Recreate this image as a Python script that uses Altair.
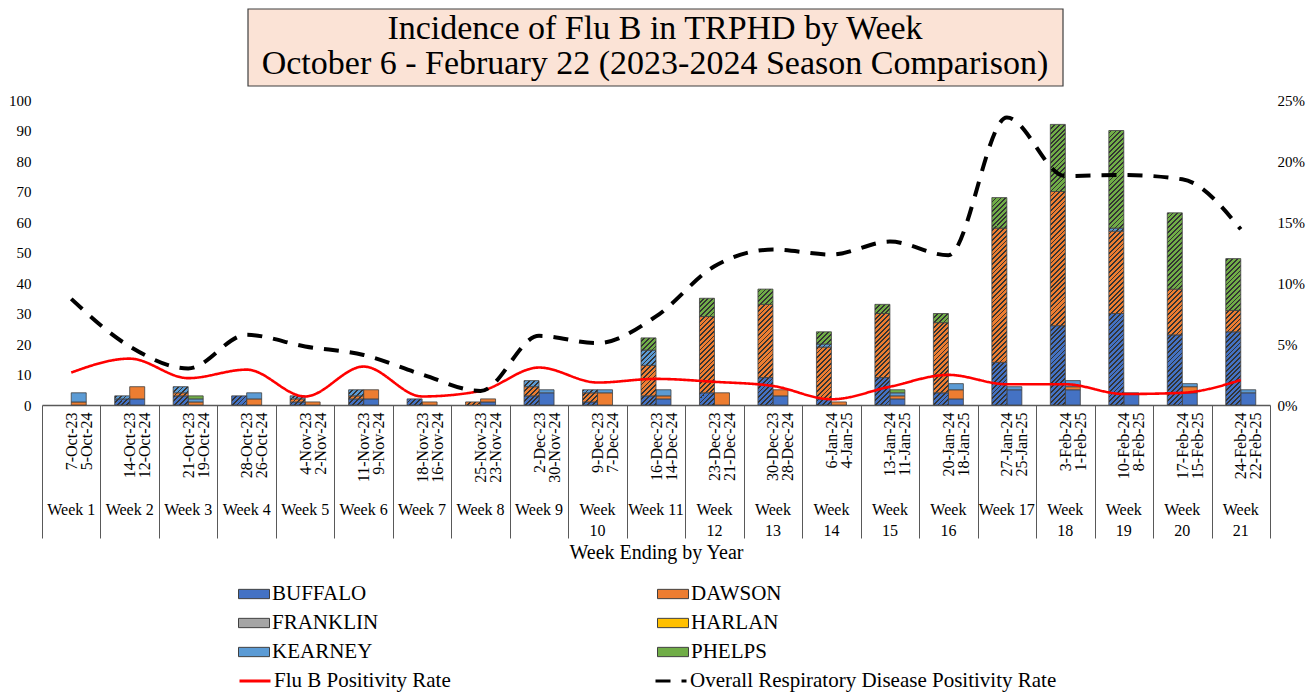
import altair as alt
import pandas as pd

SERIF = "Liberation Serif"

# ---------------- data ----------------
counties = ["BUFFALO", "DAWSON", "FRANKLIN", "HARLAN", "KEARNEY", "PHELPS"]
county_colors = ["#4472C4", "#ED7D31", "#A5A5A5", "#FFC000", "#5B9BD5", "#70AD47"]

week_labels = ["Week 1", "Week 2", "Week 3", "Week 4", "Week 5", "Week 6", "Week 7",
               "Week 8", "Week 9", "Week\n10", "Week 11", "Week\n12", "Week\n13", "Week\n14",
               "Week\n15", "Week\n16", "Week 17", "Week\n18", "Week\n19", "Week\n20", "Week\n21"]

dates_2023 = ["7-Oct-23", "14-Oct-23", "21-Oct-23", "28-Oct-23", "4-Nov-23", "11-Nov-23",
              "18-Nov-23", "25-Nov-23", "2-Dec-23", "9-Dec-23", "16-Dec-23", "23-Dec-23",
              "30-Dec-23", "6-Jan-24", "13-Jan-24", "20-Jan-24", "27-Jan-24", "3-Feb-24",
              "10-Feb-24", "17-Feb-24", "24-Feb-24"]
dates_2024 = ["5-Oct-24", "12-Oct-24", "19-Oct-24", "26-Oct-24", "2-Nov-24", "9-Nov-24",
              "16-Nov-24", "23-Nov-24", "30-Nov-24", "7-Dec-24", "14-Dec-24", "21-Dec-24",
              "28-Dec-24", "4-Jan-25", "11-Jan-25", "18-Jan-25", "25-Jan-25", "1-Feb-25",
              "8-Feb-25", "15-Feb-25", "22-Feb-25"]

# 2023-2024 season (hatched bars)
s23_buffalo  = [0, 2, 3, 3, 1, 2, 2, 0, 3, 1, 3, 4, 9, 2, 9, 4, 14, 26, 30, 23, 24]
s23_dawson   = [0, 0, 1, 0, 1, 1, 0, 1, 3, 3, 10, 25, 24, 17, 21, 23, 44, 44, 27, 15, 7]
s23_franklin = [0, 0, 0, 0, 0, 0, 0, 0, 0, 0, 0, 0, 0, 0, 0, 0, 0, 0, 0, 0, 0]
s23_harlan   = [0, 0, 0, 0, 0, 0, 0, 0, 0, 0, 0, 0, 0, 0, 0, 0, 0, 0, 0, 0, 0]
s23_kearney  = [0, 1, 2, 0, 1, 2, 0, 0, 2, 1, 5, 0, 0, 1, 0, 0, 0, 0, 1, 0, 0]
s23_phelps   = [0, 0, 0, 0, 0, 0, 0, 0, 0, 0, 4, 6, 5, 4, 3, 3, 10, 22, 32, 25, 17]

# 2024-2025 season (solid bars)
s24_buffalo  = [0, 2, 0, 0, 0, 2, 0, 1, 4, 0, 2, 0, 3, 0, 2, 2, 5, 5, 4, 4, 4]
s24_dawson   = [1, 4, 1, 2, 1, 3, 1, 1, 0, 4, 1, 4, 2, 1, 1, 3, 0, 1, 0, 2, 0]
s24_franklin = [0, 0, 0, 0, 0, 0, 0, 0, 0, 0, 0, 0, 0, 0, 0, 0, 0, 0, 0, 0, 0]
s24_harlan   = [0, 0, 0, 0, 0, 0, 0, 0, 0, 0, 0, 0, 0, 0, 0, 0, 0, 0, 0, 0, 0]
s24_kearney  = [3, 0, 1, 2, 0, 0, 0, 0, 1, 1, 2, 0, 0, 0, 1, 2, 1, 2, 0, 1, 1]
s24_phelps   = [0, 0, 1, 0, 0, 0, 0, 0, 0, 0, 0, 0, 0, 0, 1, 0, 0, 0, 0, 0, 0]

# positivity rates (%)
flu_b_rate = [2.66, 3.8, 2.2, 2.9, 0.7, 3.15, 0.7, 1.15, 3.07, 1.84, 2.14, 1.9, 1.56,
              0.47, 1.5, 2.47, 1.7, 1.7, 0.9, 1.0, 2.05]
overall_rate = [8.7, 4.8, 3.0, 5.75, 4.8, 4.1, 2.5, 1.15, 5.67, 5.07, 7.26, 11.37, 12.74,
                12.33, 13.4, 12.27, 23.56, 18.77, 18.85, 18.5, 14.4]

S23, S24 = "2023-2024", "2024-2025"
FLU_NAME = "Flu B Positivity Rate"
ALL_NAME = "Overall Respiratory Disease Positivity Rate"
title_lines = ["Incidence of Flu B in TRPHD by Week",
               "October 6 - February 22 (2023-2024 Season Comparison)"]

# ---------------- tables ----------------
keys = [f"{a}|{b}" for a, b in zip(dates_2023, dates_2024)]
s23 = [s23_buffalo, s23_dawson, s23_franklin, s23_harlan, s23_kearney, s23_phelps]
s24 = [s24_buffalo, s24_dawson, s24_franklin, s24_harlan, s24_kearney, s24_phelps]

rows = []
for season, block in ((S23, s23), (S24, s24)):
    for ci, (county, vals) in enumerate(zip(counties, block)):
        for i, v in enumerate(vals):
            if v > 0:
                rows.append({"key": keys[i], "season": season, "county": county,
                             "order": ci, "count": v})
bars_df = pd.DataFrame(rows)

lines_df = pd.DataFrame(
    [{"key": k, "series": FLU_NAME, "rate": r / 100} for k, r in zip(keys, flu_b_rate)]
    + [{"key": k, "series": ALL_NAME, "rate": r / 100} for k, r in zip(keys, overall_rate)]
)
wk_df = pd.DataFrame({"key": keys, "wk": week_labels})
one = pd.DataFrame({"dummy": [0]})

# ---------------- geometry / style ----------------
PLOT_W, PLOT_H = 1228, 305
Y_MAX = 100
BAND = PLOT_W / len(keys)
PAD_OUT = 0.95
BAR_W = BAND / (2 + 2 * PAD_OUT)
PX_PER_UNIT = PLOT_H / Y_MAX
HATCH_P = 4.8
HATCH_D = 1.8
HATCH_COLOR = "#333333"
EDGE = "#404040"


def hatch_fill(base, x0, y0, h):
    w = BAR_W
    L = w + h
    k = L / (w * w + h * h)
    phase = (-(x0 + y0)) % HATCH_P
    stops = [{"offset": 0.0, "color": base}]
    n = -1
    while True:
        a = phase + n * HATCH_P
        if a >= L:
            break
        b = a + HATCH_D
        if b > 0:
            aa = round(max(a, 0.0) / L, 5)
            bb = round(min(b, L) / L, 5)
            stops += [{"offset": aa, "color": base}, {"offset": aa, "color": HATCH_COLOR},
                      {"offset": bb, "color": HATCH_COLOR}, {"offset": bb, "color": base}]
        n += 1
    stops.append({"offset": 1.0, "color": base})
    return {"gradient": "linear", "x1": 0, "y1": 0, "x2": k * w, "y2": k * h, "stops": stops}


x_enc = alt.X(
    "key:N", sort=keys,
    scale=alt.Scale(paddingInner=0, paddingOuter=0),
    axis=alt.Axis(
        title="Week Ending by Year", titleFont=SERIF, titleFontSize=20,
        titleFontWeight="normal", titleColor="#000", titlePadding=4,
        labelExpr="split(datum.label, '|')", labelAngle=270, labelFont=SERIF,
        labelFontSize=16, labelLineHeight=15, labelPadding=-126, labelColor="#000",
        labelOverlap=False, tickBand="extent", tickSize=133, tickColor="#595959",
        tickWidth=1, domainColor="#595959", domainWidth=1.5,
    ),
)
xo_enc = alt.XOffset("season:N", scale=alt.Scale(domain=[S23, S24], paddingInner=0,
                                                   paddingOuter=PAD_OUT))
y_bar = alt.Y(
    "y0:Q", scale=alt.Scale(domain=[0, Y_MAX], nice=False),
    axis=alt.Axis(values=[0, 10, 20, 30, 40, 50, 60, 70, 80, 90, 100], title=None,
                  tickSize=0, domain=False, grid=False, labelFont=SERIF, labelFontSize=15,
                  labelColor="#000", labelPadding=11),
)
y_rate = alt.Y(
    "rate:Q", scale=alt.Scale(domain=[0, 0.25], nice=False),
    axis=alt.Axis(orient="right", values=[0, 0.05, 0.10, 0.15, 0.20, 0.25], format=".0%",
                  title=None, tickSize=0, domain=False, grid=False, labelFont=SERIF,
                  labelFontSize=15, labelColor="#000", labelPadding=7),
)

color_legend = alt.Legend(
    title=None, orient="none", direction="horizontal", legendX=196, legendY=478,
    columns=2, columnPadding=276, rowPadding=3, symbolType="M-1,-0.3H1V0.3H-1Z",
    symbolSize=961, symbolStrokeColor=EDGE, symbolStrokeWidth=1, labelFont=SERIF,
    labelFontSize=21, labelColor="#000", labelOffset=2, labelLimit=600, padding=0,
)
line_legend = alt.Legend(
    title=None, orient="none", direction="horizontal", legendX=196, legendY=564,
    columns=2, columnPadding=198, symbolType="stroke", symbolSize=961,
    symbolStrokeWidth=3, labelFont=SERIF, labelFontSize=21, labelColor="#000",
    labelOffset=2, labelLimit=600, padding=0,
)

stack_args = dict(stack="count", groupby=["key", "season"], as_=["y0", "y1"],
                  sort=[alt.SortField("order", "ascending")])

# ---------------- layers ----------------
title_box = alt.Chart(one).mark_rect(fill="#FBE3D6", stroke="#3f3f3f", strokeWidth=1.2).encode(
    x=alt.value(206), x2=alt.value(1021), y=alt.value(-91), y2=alt.value(-14))
title_text = alt.Chart(one).mark_text(
    font=SERIF, fontSize=34, lineHeight=35, baseline="alphabetic", align="center",
    color="#000").encode(x=alt.value(613), y=alt.value(-61), text=alt.value(title_lines))

solid = (
    alt.Chart(bars_df)
    .transform_filter(alt.datum.season == S24)
    .transform_stack(**stack_args)
    .mark_bar(stroke=EDGE, strokeWidth=0.8)
    .encode(
        x=x_enc, xOffset=xo_enc, y=y_bar, y2="y1:Q",
        color=alt.Color("county:N", scale=alt.Scale(domain=counties, range=county_colors),
                        legend=color_legend),
    )
)

hatched = []
for i, key in enumerate(keys):
    cum = 0
    for ci, county in enumerate(counties):
        v = s23[ci][i]
        if v <= 0:
            continue
        y_top = (Y_MAX - (cum + v)) * PX_PER_UNIT
        x_left = i * BAND + PAD_OUT * BAR_W
        cum += v
        fill = hatch_fill(county_colors[ci], x_left, y_top, v * PX_PER_UNIT)
        hatched.append(
            alt.Chart(bars_df)
            .transform_filter(alt.datum.season == S23)
            .transform_stack(**stack_args)
            .transform_filter((alt.datum.key == key) & (alt.datum.county == county))
            .mark_bar(fill=fill, stroke=EDGE, strokeWidth=0.8)
            .encode(x=x_enc, xOffset=xo_enc, y=y_bar, y2="y1:Q")
        )

wk_text = alt.Chart(wk_df).mark_text(
    font=SERIF, fontSize=16, lineBreak="\n", lineHeight=21, baseline="alphabetic",
    color="#000").encode(x=x_enc, y=alt.value(415), text="wk:N")

stroke_enc = alt.Stroke("series:N", scale=alt.Scale(domain=[FLU_NAME, ALL_NAME],
                                                      range=["#FF0000", "#000000"]),
                        legend=line_legend)
dash_enc = alt.StrokeDash("series:N", scale=alt.Scale(domain=[FLU_NAME, ALL_NAME],
                                                        range=[[1, 0], [15, 11]]),
                          legend=line_legend)

red = (alt.Chart(lines_df).transform_filter(alt.datum.series == FLU_NAME)
       .mark_line(strokeWidth=2.6, interpolate="monotone")
       .encode(x=x_enc, y=y_rate, stroke=stroke_enc, strokeDash=dash_enc))
black = (alt.Chart(lines_df).transform_filter(alt.datum.series == ALL_NAME)
         .mark_line(strokeWidth=4, interpolate="monotone", strokeCap="butt")
         .encode(x=x_enc, y=y_rate, stroke=stroke_enc, strokeDash=dash_enc))

bars_layer = alt.layer(title_box, title_text, solid, *hatched, wk_text)
lines_layer = alt.layer(red, black)

chart = (
    alt.layer(bars_layer, lines_layer)
    .resolve_scale(y="independent")
    .properties(width=PLOT_W, height=PLOT_H, autosize=alt.AutoSizeParams(type="none"),
                padding={"left": 34, "top": 92, "right": 36, "bottom": 290},
                background="#ffffff")
    .configure_view(stroke="transparent")
)

chart.save("out.html", embed_options={"renderer": "svg", "actions": False})
